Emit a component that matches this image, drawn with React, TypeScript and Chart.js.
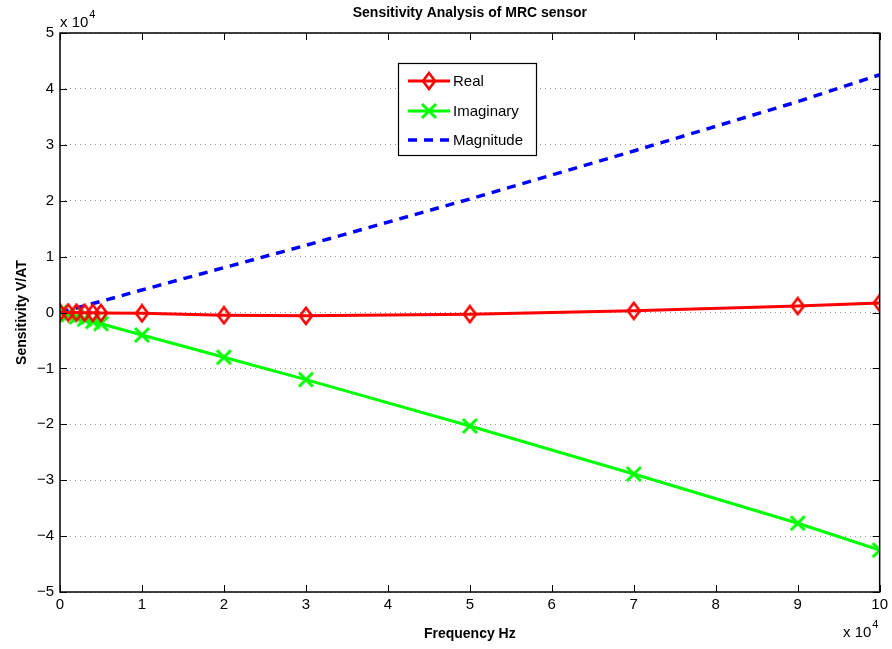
import React, { useEffect, useRef } from "react";
import { Chart, registerables } from "chart.js";

Chart.register(...registerables);

const freq = [0, 1000, 2000, 3000, 4000, 5000, 10000, 20000, 30000, 50000, 70000, 90000, 100000];
const realVals = [0, 0, -20, -40, -60, -80, -150, -500, -600, -300, 300, 1150, 1700];
const imagVals = [0, -400, -800, -1200, -1600, -2000, -4030, -8000, -12000, -20300, -28900, -37700, -42500];
const magVals = [0, 400, 800, 1200, 1600, 2000, 4030, 8020, 12020, 20300, 28900, 37720, 42530];
const yTicks = [-5, -4, -3, -2, -1, 0, 1, 2, 3, 4, 5];
const xTicks = [0, 1, 2, 3, 4, 5, 6, 7, 8, 9, 10];
const titleText = "Sensitivity Analysis of MRC sensor";
const xLabel = "Frequency Hz";
const yLabel = "Sensitivity V/AT";
const seriesNames = ["Real", "Imaginary", "Magnitude"];

const FONT = "'Liberation Sans', Arial, Helvetica, sans-serif";

function makeDiamond(): HTMLCanvasElement {
  const c = document.createElement("canvas");
  c.width = 16;
  c.height = 20;
  const ctx = c.getContext("2d")!;
  ctx.strokeStyle = "#ff0000";
  ctx.lineWidth = 2.6;
  ctx.lineJoin = "miter";
  ctx.beginPath();
  ctx.moveTo(8, 2);
  ctx.lineTo(14, 10);
  ctx.lineTo(8, 18);
  ctx.lineTo(2, 10);
  ctx.closePath();
  ctx.stroke();
  return c;
}

function makeCross(): HTMLCanvasElement {
  const c = document.createElement("canvas");
  c.width = 18;
  c.height = 18;
  const ctx = c.getContext("2d")!;
  ctx.strokeStyle = "#00ff00";
  ctx.lineWidth = 3;
  ctx.beginPath();
  ctx.moveTo(2, 2);
  ctx.lineTo(16, 16);
  ctx.moveTo(16, 2);
  ctx.lineTo(2, 16);
  ctx.stroke();
  return c;
}

export default function App() {
  const ref = useRef<HTMLCanvasElement | null>(null);
  useEffect(() => {
    if (!ref.current) return;
    const diamond = makeDiamond();
    const cross = makeCross();
    const pts = (ys: number[]) => freq.map((x, i) => ({ x, y: ys[i] }));
    const overlay = {
      id: "overlay",
      afterDraw(chart: any) {
        const ctx = chart.ctx as CanvasRenderingContext2D;
        const a = chart.chartArea;
        const xs = chart.scales.x;
        const ys = chart.scales.y;
        ctx.save();
        ctx.strokeStyle = "#000";
        ctx.lineWidth = 1.5;
        ctx.setLineDash([]);
        ctx.strokeRect(a.left, a.top, a.right - a.left, a.bottom - a.top);
        ctx.lineWidth = 1;
        const tl = 7;
        xTicks.forEach((t) => {
          const px = Math.round(xs.getPixelForValue(t * 1e4)) + 0.5;
          ctx.beginPath();
          ctx.moveTo(px, a.bottom);
          ctx.lineTo(px, a.bottom - tl);
          ctx.moveTo(px, a.top);
          ctx.lineTo(px, a.top + tl);
          ctx.stroke();
        });
        yTicks.forEach((t) => {
          const py = Math.round(ys.getPixelForValue(t * 1e4)) + 0.5;
          ctx.beginPath();
          ctx.moveTo(a.left, py);
          ctx.lineTo(a.left + tl, py);
          ctx.moveTo(a.right, py);
          ctx.lineTo(a.right - tl, py);
          ctx.stroke();
        });
        ctx.fillStyle = "#000";
        ctx.font = `bold 14px ${FONT}`;
        ctx.textAlign = "center";
        ctx.textBaseline = "middle";
        ctx.fillText(titleText, (a.left + a.right) / 2, 13);
        ctx.fillText(xLabel, (a.left + a.right) / 2, 634);
        ctx.save();
        ctx.translate(22, (a.top + a.bottom) / 2);
        ctx.rotate(-Math.PI / 2);
        ctx.fillText(yLabel, 0, 0);
        ctx.restore();
        ctx.font = `15px ${FONT}`;
        ctx.textAlign = "left";
        ctx.textBaseline = "alphabetic";
        ctx.fillText("x 10", 60, 27);
        const w1 = ctx.measureText("x 10").width;
        ctx.font = `11px ${FONT}`;
        ctx.fillText("4", 60 + w1 + 1, 18);
        ctx.font = `15px ${FONT}`;
        ctx.fillText("x 10", 843, 637);
        ctx.font = `11px ${FONT}`;
        ctx.fillText("4", 843 + w1 + 1, 628);
        const lx = 398, ly = 63, lw = 138, lh = 92;
        ctx.fillStyle = "#fff";
        ctx.fillRect(lx, ly, lw, lh);
        ctx.strokeStyle = "#000";
        ctx.lineWidth = 1.2;
        ctx.strokeRect(lx + 0.5, ly + 0.5, lw, lh);
        const rows = [81, 111, 140];
        const colors = ["#ff0000", "#00ff00", "#0000ff"];
        rows.forEach((ry, i) => {
          ctx.strokeStyle = colors[i];
          ctx.lineWidth = i === 2 ? 3.5 : 3;
          ctx.setLineDash(i === 2 ? [9, 7] : []);
          ctx.beginPath();
          ctx.moveTo(408, ry);
          ctx.lineTo(450, ry);
          ctx.stroke();
          ctx.setLineDash([]);
          const cx = 429;
          if (i === 0) ctx.drawImage(diamond, cx - 8, ry - 10);
          else if (i === 1) ctx.drawImage(cross, cx - 9, ry - 9);
          ctx.fillStyle = "#000";
          ctx.font = `15px ${FONT}`;
          ctx.textAlign = "left";
          ctx.textBaseline = "middle";
          ctx.fillText(seriesNames[i], 453, ry + 1);
        });
        ctx.restore();
      },
    };
    const chart = new Chart(ref.current, {
      type: "scatter",
      data: {
        datasets: [
          {
            label: seriesNames[2],
            data: pts(magVals),
            showLine: true,
            borderColor: "#0000ff",
            borderWidth: 3.5,
            borderDash: [9, 7],
            pointRadius: 0,
            fill: false,
            order: 3,
          },
          {
            label: seriesNames[1],
            data: pts(imagVals),
            showLine: true,
            borderColor: "#00ff00",
            borderWidth: 3,
            pointStyle: cross,
            pointRadius: 9,
            fill: false,
            order: 2,
          },
          {
            label: seriesNames[0],
            data: pts(realVals),
            showLine: true,
            borderColor: "#ff0000",
            borderWidth: 3,
            pointStyle: diamond,
            pointRadius: 9,
            fill: false,
            order: 1,
          },
        ],
      },
      options: {
        animation: false,
        responsive: false,
        maintainAspectRatio: false,
        layout: { padding: { top: 33, right: 12, left: 0, bottom: 0 } },
        plugins: { legend: { display: false }, title: { display: false }, tooltip: { enabled: false } },
        scales: {
          x: {
            type: "linear",
            min: 0,
            max: 100000,
            afterBuildTicks: (s: any) => {
              s.ticks = xTicks.map((v) => ({ value: v * 1e4 }));
            },
            afterFit: (s: any) => {
              s.height = 57;
            },
            grid: { display: false, drawTicks: false },
            border: { display: false },
            ticks: {
              color: "#000",
              font: { family: FONT, size: 15 },
              padding: 4,
              maxRotation: 0,
              autoSkip: false,
              callback: (v: any) => String(Math.round(Number(v) / 1e4)),
            },
          },
          y: {
            type: "linear",
            min: -50000,
            max: 50000,
            afterBuildTicks: (s: any) => {
              s.ticks = yTicks.map((v) => ({ value: v * 1e4 }));
            },
            afterFit: (s: any) => {
              s.width = 60;
            },
            grid: { display: true, drawTicks: false, color: "#999", lineWidth: 1 },
            border: { display: false, dash: [1, 4] },
            ticks: {
              color: "#000",
              font: { family: FONT, size: 15 },
              padding: 6,
              autoSkip: false,
              callback: (v: any) => {
                const n = Math.round(Number(v) / 1e4);
                return n < 0 ? "\u2212" + Math.abs(n) : String(n);
              },
            },
          },
        },
      },
      plugins: [overlay],
    } as any);
    return () => chart.destroy();
  }, []);
  return (
    <div style={{ position: "fixed", left: 0, top: 0, width: 892, height: 649, background: "#fff" }}>
      <canvas ref={ref} width={892} height={649} style={{ width: 892, height: 649 }} />
    </div>
  );
}
